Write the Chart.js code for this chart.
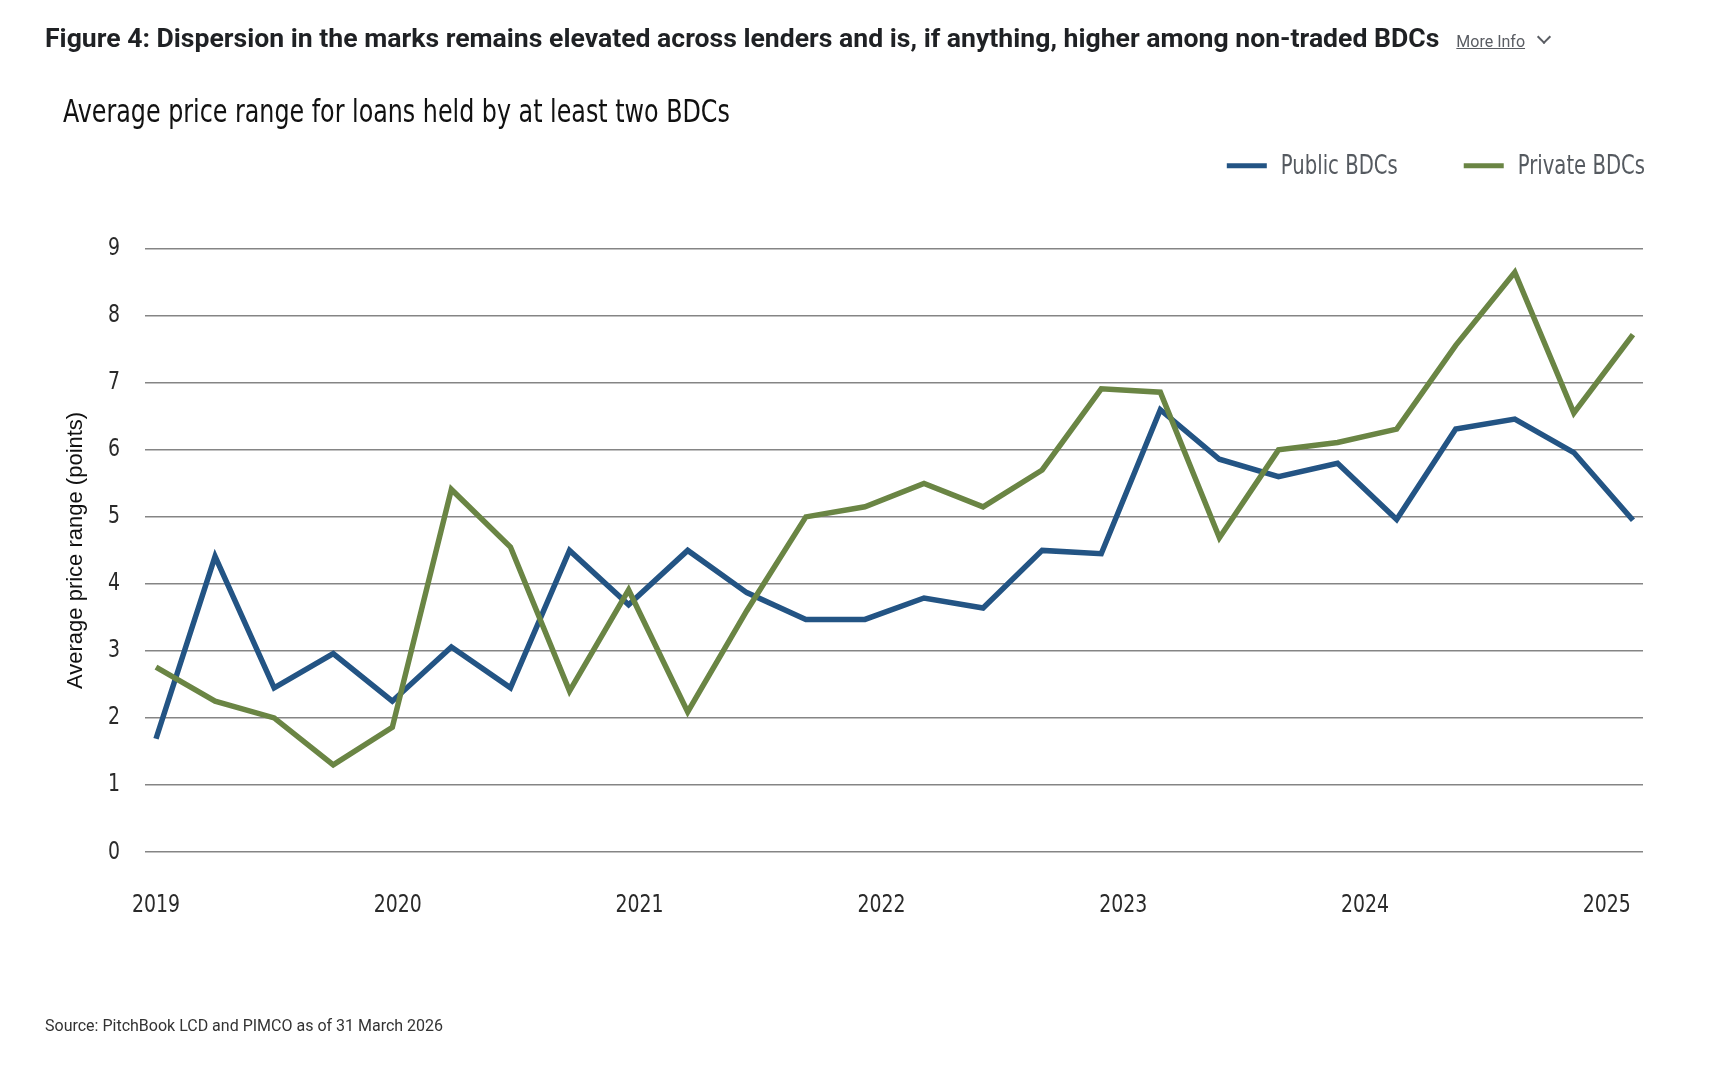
<!DOCTYPE html>
<html>
<head>
<meta charset="utf-8">
<script src="https://cdn.jsdelivr.net/npm/chart.js@4/dist/chart.umd.min.js"></script>
<style>
  html, body { margin: 0; padding: 0; background: #ffffff; }
  body { width: 1710px; height: 1084px; position: relative; overflow: hidden; }
  #heading { position: absolute; left: 45px; top: 22px; font-family: Roboto, "Liberation Sans", sans-serif; font-weight: 700; font-size: 26.6px; color: #1f2124; white-space: nowrap; }
  #more { font-weight: 400; font-size: 16px; color: #5a5d63; text-decoration: underline; margin-left: 17px; }
  #chev { display: inline-block; width: 8px; height: 8px; border-right: 2px solid #5a5d63; border-bottom: 2px solid #5a5d63; transform: rotate(45deg); margin-left: 14px; position: relative; top: -5px; }
  #source { position: absolute; left: 45px; top: 1016px; font-family: Roboto, "Liberation Sans", sans-serif; font-size: 16px; color: #333; white-space: nowrap; }
  #wrap { position: absolute; left: 0; top: 0; width: 1710px; height: 1084px; }
</style>
</head>
<body>
<div id="wrap"><canvas id="c" width="1710" height="1084"></canvas></div>
<div id="heading">Figure 4: Dispersion in the marks remains elevated across lenders and is, if anything, higher among non-traded BDCs<span id="more">More Info</span><span id="chev"></span></div>
<div id="source">Source: PitchBook LCD and PIMCO as of 31 March 2026</div>
<script>
// ---- data ----
const seriesNames = ['Public BDCs', 'Private BDCs'];
const publicBDCs = [1.69, 4.41, 2.45, 2.96, 2.25, 3.06, 2.45, 4.50, 3.69, 4.50, 3.87, 3.47, 3.47, 3.79, 3.64, 4.50, 4.45, 6.60, 5.86, 5.60, 5.80, 4.96, 6.31, 6.46, 5.96, 4.95];
const privateBDCs = [2.76, 2.25, 2.00, 1.30, 1.86, 5.41, 4.55, 2.40, 3.91, 2.09, 3.60, 5.00, 5.15, 5.50, 5.15, 5.70, 6.91, 6.86, 4.69, 6.00, 6.11, 6.31, 7.56, 8.65, 6.55, 7.72];
const yearLabels = ['2019', '2020', '2021', '2022', '2023', '2024', '2025'];
const yTicks = [0, 1, 2, 3, 4, 5, 6, 7, 8, 9];
const pointsPerYearLabel = 4.093;

const BLUE = '#235484';
const GREEN = '#6a8544';
const NARROW = '"DejaVu Sans Condensed", sans-serif';

function toXY(arr) { return arr.map((v, i) => ({ x: i, y: v })); }

// condensed rendering for the narrow chart font (reference uses a light condensed face)
const canvas = document.getElementById('c');
const cctx = canvas.getContext('2d');
const origFill = cctx.fillText;
cctx.fillText = function (text, x, y, maxW) {
  if (this.font.indexOf('DejaVu Sans Condensed') !== -1) {
    this.save();
    this.translate(x, y);
    this.scale(0.84, 1);
    origFill.call(this, text, 0, 0);
    this.restore();
  } else {
    origFill.call(this, text, x, y, maxW);
  }
};

const legendPlugin = {
  id: 'customLegend',
  afterDraw(chart) {
    const ctx = chart.ctx;
    const area = chart.chartArea;
    const y = area.top - 83;
    const lineW = 40, gap = 14, itemGap = 66, sx = 0.84;
    ctx.save();
    ctx.font = '26px ' + NARROW;
    ctx.textBaseline = 'middle';
    ctx.textAlign = 'left';
    const items = chart.data.datasets.map(ds => ({ text: ds.label, color: ds.borderColor, w: ctx.measureText(ds.label).width * sx }));
    let total = 0;
    items.forEach((it, i) => { total += lineW + gap + it.w + (i < items.length - 1 ? itemGap : 0); });
    let x = area.right + 2 - total;
    items.forEach(it => {
      ctx.strokeStyle = it.color;
      ctx.lineWidth = 5;
      ctx.beginPath();
      ctx.moveTo(x, y);
      ctx.lineTo(x + lineW, y);
      ctx.stroke();
      ctx.fillStyle = '#555a60';
      ctx.fillText(it.text, x + lineW + gap, y + 1);
      x += lineW + gap + it.w + itemGap;
    });
    ctx.restore();
  }
};

new Chart(canvas, {
  type: 'line',
  data: {
    datasets: [
      { label: seriesNames[0], data: toXY(publicBDCs), borderColor: BLUE, backgroundColor: BLUE, borderWidth: 5.5, pointRadius: 0, tension: 0, order: 1, borderJoinStyle: 'miter' },
      { label: seriesNames[1], data: toXY(privateBDCs), borderColor: GREEN, backgroundColor: GREEN, borderWidth: 5.5, pointRadius: 0, tension: 0, order: 0, borderJoinStyle: 'miter' }
    ]
  },
  options: {
    responsive: false,
    animation: false,
    maintainAspectRatio: false,
    devicePixelRatio: 1,
    layout: { padding: { left: 63, right: 67, top: 95, bottom: 132 } },
    plugins: {
      legend: { display: false },
      tooltip: { enabled: false },
      title: {
        display: true,
        text: 'Average price range for loans held by at least two BDCs',
        align: 'start',
        color: '#111',
        font: { family: NARROW, size: 31.5, weight: 'normal', lineHeight: 1.2 },
        padding: { top: 0, bottom: 116 }
      }
    },
    scales: {
      x: {
        type: 'linear',
        min: -0.186,
        max: 25.17,
        grid: { display: false, drawTicks: false },
        border: { display: false },
        afterBuildTicks: (scale) => { scale.ticks = yearLabels.map((_, i) => ({ value: i * pointsPerYearLabel })); },
        afterFit: (scale) => { scale.height = 100; },
        ticks: {
          autoSkip: false,
          maxRotation: 0,
          padding: 38,
          color: '#2a2a2a',
          font: { family: NARROW, size: 25 },
          callback: (v, i) => yearLabels[i]
        }
      },
      y: {
        min: 0,
        max: 9,
        afterBuildTicks: (scale) => { scale.ticks = yTicks.map(v => ({ value: v })); },
        afterFit: (scale) => { scale.width = 82; },
        grid: { color: '#858585', lineWidth: 1.5, drawTicks: false },
        border: { display: false },
        ticks: { padding: 25, color: '#2a2a2a', font: { family: NARROW, size: 25 } },
        title: {
          display: true,
          text: 'Average price range (points)',
          color: '#111',
          padding: 0,
          font: { family: '"Liberation Sans", Arial, sans-serif', size: 22 }
        }
      }
    }
  },
  plugins: [legendPlugin]
});
</script>
</body>
</html>
